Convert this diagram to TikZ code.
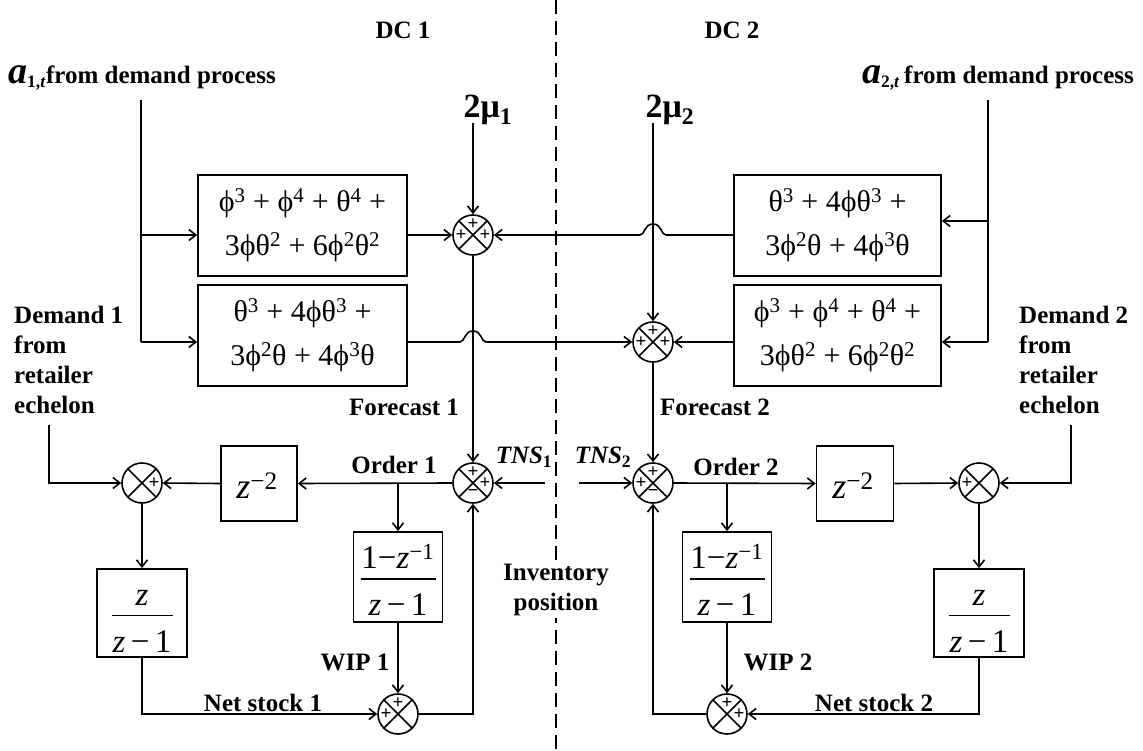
\documentclass[tikz,border=0pt]{standalone}
\usepackage{fontspec}
\setmainfont{Liberation Serif}
\usetikzlibrary{arrows.meta,calc}
\newcommand\fracbox[3]{#1\\[-18pt]\rule{#3}{1.4pt}\\[7pt]#2}
\begin{document}
\begin{tikzpicture}[x=1pt,y=-1pt,
  ln/.style={line width=1.6pt},
  arr/.style={line width=1.6pt,-{Straight Barb[length=7pt,width=11pt]}},
  blk/.style={draw,line width=1.8pt,inner sep=0pt,align=center,font=\fontsize{30}{44}\selectfont},
  sumnode/.style={draw,circle,line width=1.6pt,minimum size=40pt,inner sep=0pt},
  sg/.style={inner sep=0pt,font=\bfseries\fontsize{19}{19}\selectfont},
  lbl/.style={inner sep=0pt,font=\bfseries\fontsize{25}{30}\selectfont},
  frc/.style={inner sep=0pt,align=center,font=\fontsize{33}{29}\selectfont},
]
\useasboundingbox (0,0) rectangle (1143,751);
% divider
\coordinate (dtop) at (556,0);
\coordinate (dbot) at (556,751);
\draw[line width=2.6pt,dash pattern=on 14pt off 7pt] (dtop) -- (dbot);

% headings
\node[lbl] (dc1) at (403,30) {DC 1};
\node[lbl] (dc2) at (732,30) {DC 2};
\node[lbl,anchor=west] (a1) at (8,78) {{\fontsize{38}{38}\selectfont\textit{a}}\textsubscript{1,\textit{t}}from demand process};
\node[lbl,anchor=east] (a2) at (1134,78) {{\fontsize{38}{38}\selectfont\textit{a}}\textsubscript{2,\textit{t}}\,from demand process};
\node[lbl,font=\bfseries\fontsize{34}{34}\selectfont] (m1) at (488,110) {2μ\textsubscript{1}};
\node[lbl,font=\bfseries\fontsize{34}{34}\selectfont] (m2) at (670,110) {2μ\textsubscript{2}};

% forecast blocks
\node[blk,minimum width=209pt,minimum height=101pt] (b1) at (302.5,225.5)
  {ϕ\textsuperscript{3} + ϕ\textsuperscript{4} + θ\textsuperscript{4} +\\3ϕθ\textsuperscript{2} + 6ϕ\textsuperscript{2}θ\textsuperscript{2}};
\node[blk,minimum width=209pt,minimum height=101pt] (b2) at (302.5,335.5)
  {θ\textsuperscript{3} + 4ϕθ\textsuperscript{3} +\\3ϕ\textsuperscript{2}θ + 4ϕ\textsuperscript{3}θ};
\node[blk,minimum width=207pt,minimum height=101pt] (b3) at (837.5,225.5)
  {θ\textsuperscript{3} + 4ϕθ\textsuperscript{3} +\\3ϕ\textsuperscript{2}θ + 4ϕ\textsuperscript{3}θ};
\node[blk,minimum width=207pt,minimum height=101pt] (b4) at (837.5,335.5)
  {ϕ\textsuperscript{3} + ϕ\textsuperscript{4} + θ\textsuperscript{4} +\\3ϕθ\textsuperscript{2} + 6ϕ\textsuperscript{2}θ\textsuperscript{2}};

% sums
\node[sumnode] (s1) at (473,235) {};
\node[sumnode] (s2) at (653,342) {};
\node[sumnode] (s3) at (142,483) {};
\node[sumnode] (s4) at (473,483) {};
\node[sumnode] (s5) at (398,714) {};
\node[sumnode] (s6) at (653,483) {};
\node[sumnode] (s7) at (727,714) {};
\node[sumnode] (s8) at (979,483) {};
\foreach \s in {s1,s2,s3,s4,s5,s6,s7,s8}
  \draw[line width=1.5pt] (\s.45) -- (\s.225) (\s.135) -- (\s.315);

% signs
\node[sg] (s1a) at ([yshift=11pt]s1.center) {+};
\node[sg] (s1b) at ([xshift=-12pt]s1.center) {+};
\node[sg] (s1c) at ([xshift=12pt]s1.center) {+};
\node[sg] (s2a) at ([yshift=11pt]s2.center) {+};
\node[sg] (s2b) at ([xshift=-12pt]s2.center) {+};
\node[sg] (s2c) at ([xshift=12pt]s2.center) {+};
\node[sg] (s3c) at ([xshift=12pt]s3.center) {+};
\node[sg] (s4a) at ([yshift=11pt]s4.center) {+};
\node[sg] (s4c) at ([xshift=12pt]s4.center) {+};
\node[sg] (s4d) at ([yshift=-10pt]s4.center) {−};
\node[sg] (s5a) at ([yshift=11pt]s5.center) {+};
\node[sg] (s5b) at ([xshift=-12pt]s5.center) {+};
\node[sg] (s6a) at ([yshift=11pt]s6.center) {+};
\node[sg] (s6b) at ([xshift=-12pt]s6.center) {+};
\node[sg] (s6d) at ([yshift=-10pt]s6.center) {−};
\node[sg] (s7a) at ([yshift=11pt]s7.center) {+};
\node[sg] (s7c) at ([xshift=12pt]s7.center) {+};
\node[sg] (s8b) at ([xshift=-12pt]s8.center) {+};

% lower blocks
\node[draw,line width=1.8pt,minimum width=76pt,minimum height=75pt,inner sep=0pt] (zL) at (259,483.5) {};
\node[frc,font=\fontsize{36}{30}\selectfont] (zLt) at ([xshift=-2pt,yshift=-2pt]zL.center) {\textit{z}\textsuperscript{−2}};
\node[draw,line width=1.8pt,minimum width=77pt,minimum height=75pt,inner sep=0pt] (zR) at (855,483.5) {};
\node[frc,font=\fontsize{36}{30}\selectfont] (zRt) at ([xshift=-2pt,yshift=-2pt]zR.center) {\textit{z}\textsuperscript{−2}};
\node[draw,line width=1.8pt,minimum width=89pt,minimum height=90pt,inner sep=0pt] (wL) at (398,577) {};
\node[frc] (wLt) at ([yshift=-3pt]wL.center) {\fracbox{1−\textit{z}\textsuperscript{−1}}{\textit{z}\,−\,1}{75pt}};
\node[draw,line width=1.8pt,minimum width=89pt,minimum height=90pt,inner sep=0pt] (wR) at (727,577) {};
\node[frc] (wRt) at ([yshift=-3pt]wR.center) {\fracbox{1−\textit{z}\textsuperscript{−1}}{\textit{z}\,−\,1}{75pt}};
\node[draw,line width=1.8pt,minimum width=90pt,minimum height=88pt,inner sep=0pt] (nL) at (142,613) {};
\node[frc] (nLt) at ([yshift=-8pt]nL.center) {\fracbox{\textit{z}}{\textit{z}\,−\,1}{61pt}};
\node[draw,line width=1.8pt,minimum width=90pt,minimum height=88pt,inner sep=0pt] (nR) at (979,613) {};
\node[frc] (nRt) at ([yshift=-8pt]nR.center) {\fracbox{\textit{z}}{\textit{z}\,−\,1}{61pt}};

% labels
\node[lbl,align=left,anchor=west] (dm1) at (14,360) {Demand 1\\from\\retailer\\echelon};
\node[lbl,align=left,anchor=west] (dm2) at (1019,360) {Demand 2\\from\\retailer\\echelon};
\node[lbl] (f1) at (404,407) {Forecast 1};
\node[lbl] (f2) at (715,407) {Forecast 2};
\node[lbl] (o1l) at (394,465) {Order 1};
\node[lbl] (o2l) at (736,467) {Order 2};
\node[lbl] (w1) at (355,662) {WIP 1};
\node[lbl] (w2) at (778,662) {WIP 2};
\node[lbl] (n1) at (263,703) {Net stock 1};
\node[lbl] (n2) at (874,703) {Net stock 2};
\node[lbl] (t1l) at (524,457) {\textit{TNS}\textsubscript{1}};
\node[lbl] (t2l) at (603,457) {\textit{TNS}\textsubscript{2}};
\node[lbl,fill=white,align=center,inner sep=2pt] (inv) at (556,590) {Inventory\\position};

% coordinates for free ends
\coordinate (aL) at (141,100);
\coordinate (aR) at (988,100);
\coordinate (r1) at (988,221);
\coordinate (m1t) at (473,123);
\coordinate (m2t) at (653,123);
\coordinate (d1) at (49,425);
\coordinate (d2) at (1071,425);
\coordinate (t1) at (545,483);
\coordinate (t2) at (579,483);

% top connections
\draw[ln] (aL) -- (aL |- s2);
\draw[arr] (aL |- s1) -- (b1.west |- s1);
\draw[arr] (aL |- s2) -- (b2.west |- s2);
\draw[ln] (aR) -- (aR |- s2);
\draw[arr] (r1) -- (b3.east |- r1);
\draw[arr] (aR |- s2) -- (b4.east |- s2);
\draw[arr] (m1t) -- (s1.north);
\draw[arr] (m2t) -- (s2.north);
\draw[arr] (b1.east |- s1) -- (s1.west);
\draw[arr] (b3.west |- s1) -- ($(s2|-s1)+(13,0)$)
  .. controls +(-5,0) and +(9,0) .. ($(s2|-s1)+(0,-11)$)
  .. controls +(-9,0) and +(5,0) .. ($(s2|-s1)+(-13,0)$) -- (s1.east);
\draw[arr] (b2.east |- s2) -- ($(s1|-s2)+(-13,0)$)
  .. controls +(5,0) and +(-9,0) .. ($(s1|-s2)+(0,-11)$)
  .. controls +(9,0) and +(-5,0) .. ($(s1|-s2)+(13,0)$) -- (s2.west);
\draw[arr] (b4.west |- s2) -- (s2.east);
\draw[arr] (s1.south) -- (s4.north);
\draw[arr] (s2.south) -- (s6.north);

% DC1 loop
\draw[arr] (d1) |- (s3.west);
\draw[arr] (s4.west) -- (zL.east);
\draw[arr] (wL.north |- s4) -- (wL.north);
\draw[arr] (zL.west) -- (s3.east);
\draw[arr] (s3.south) -- (nL.north);
\draw[arr] (nL.south) |- (s5.west);
\draw[arr] (wL.south) -- (s5.north);
\draw[arr] (s5.east) -| (s4.south);
\draw[arr] (t1) -- (s4.east);

% DC2 loop
\draw[arr] (t2) -- (s6.west);
\draw[arr] (s6.east) -- (zR.west);
\draw[arr] (wR.north |- s6) -- (wR.north);
\draw[arr] (zR.east) -- (s8.west);
\draw[arr] (d2) |- (s8.east);
\draw[arr] (s8.south) -- (nR.north);
\draw[arr] (nR.south) |- (s7.east);
\draw[arr] (wR.south) -- (s7.north);
\draw[arr] (s7.west) -| (s6.south);
\end{tikzpicture}
\end{document}
